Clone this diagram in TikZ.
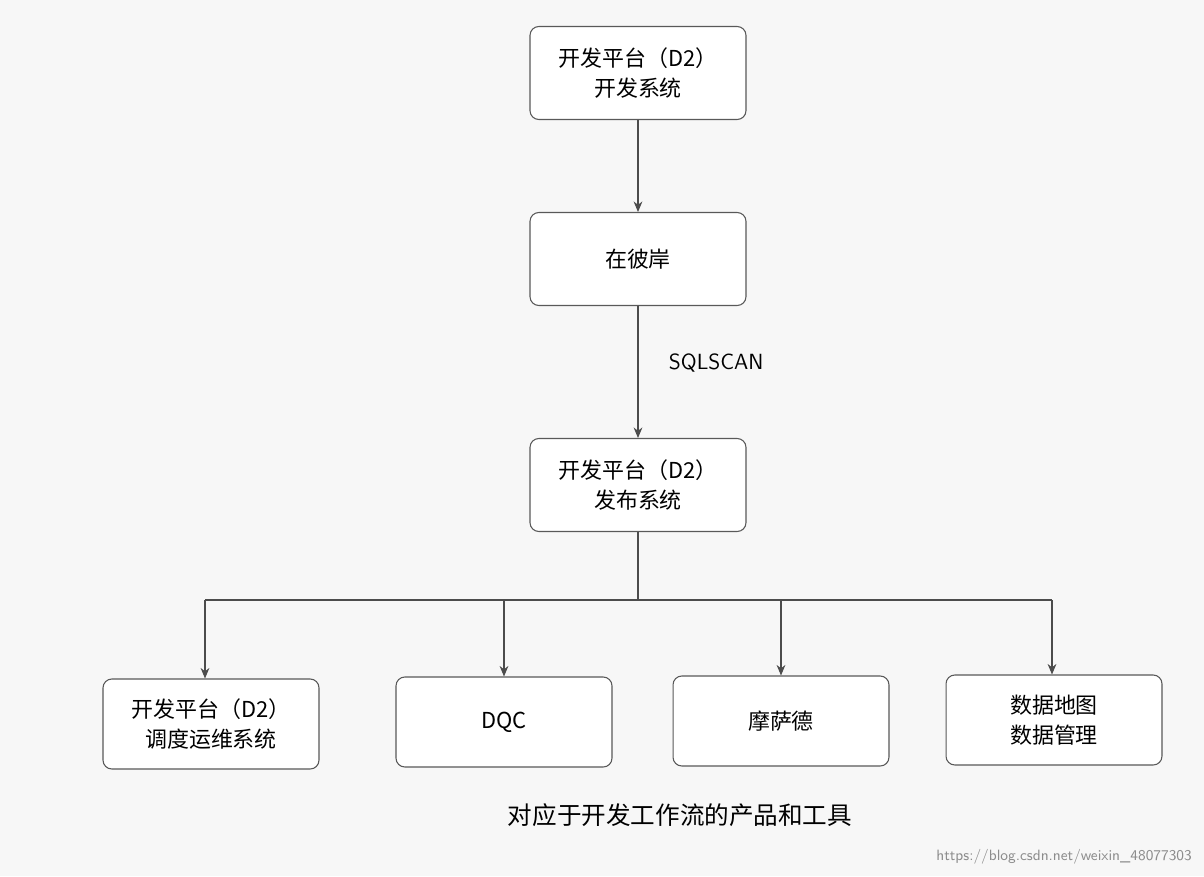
\documentclass[tikz,border=0pt]{standalone}
\usepackage{fontspec}
\newfontfamily\cjk{Noto Sans CJK SC}
\usetikzlibrary{arrows.meta,positioning}

\tikzset{
  box/.style={draw=black!65, rounded corners=5pt, line width=0.6pt, fill=white,
    minimum width=4.32cm, minimum height=1.8cm, align=center, font=\cjk\fontsize{12.5}{17}\selectfont},
  link/.style={-{Stealth[length=6pt,width=5pt]}, black!70, line width=0.6pt}
}

\begin{document}
\begin{tikzpicture}[x=0.02cm,y=-0.02cm]

\useasboundingbox[fill=black!3] (0,0) rectangle (1204,876);

% main chain
\node[box, minimum height=1.86cm] (dev) at (638,73) {开发平台（D2）\\开发系统};
\node[box, minimum height=1.86cm] (zby) at (638,259) {在彼岸};
\node[box, minimum height=1.86cm] (pub) at (638,485) {开发平台（D2）\\发布系统};

% tools row
\node[box] (ops) at (211,724) {开发平台（D2）\\调度运维系统};
\node[box] (dqc) at (504,722) {DQC};
\node[box] (msd) at (781,721) {摩萨德};
\node[box] (map) at (1054,720) {数据地图\\数据管理};

\draw[link] (dev) -- (zby);
\draw[link] (zby) -- node[right=14pt, pos=0.43, text=black, font=\sffamily\fontsize{12.5}{15}\selectfont] {SQLSCAN} (pub);

% branch
\coordinate (hub) at (638,600);
\draw[black!70, line width=0.6pt] (pub) -- (hub);
\draw[black!70, line width=0.6pt] (205,600) -- (1052,600);
\foreach \t/\x in {ops/205, dqc/504, msd/781, map/1052}
  \draw[link] (\x,600) -- (\t.north -| \x,0);

% caption
\node[font=\cjk\fontsize{14}{17}\selectfont] (cap) at (680,815) {对应于开发工作流的产品和工具};
\node[font=\sffamily\fontsize{8.5}{10}\selectfont, text=black!45, anchor=east] (wm) at (1198,857) {https://blog.csdn.net/weixin\_48077303};

\end{tikzpicture}
\end{document}
